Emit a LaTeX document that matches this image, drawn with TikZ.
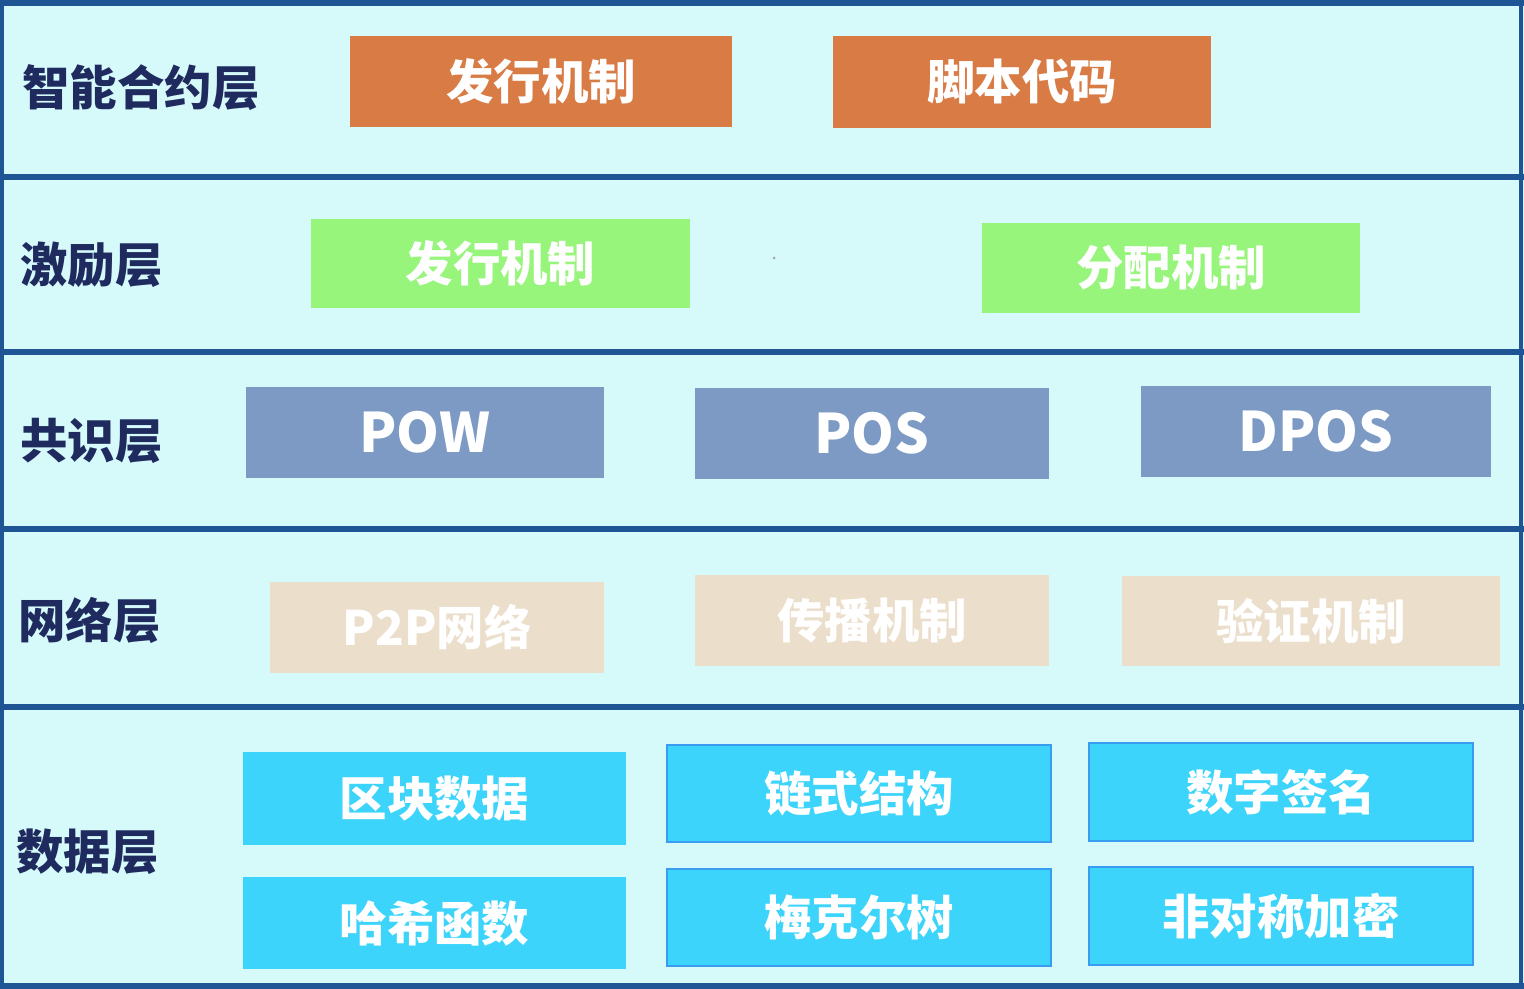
\documentclass[tikz,border=0pt]{standalone}
\usepackage{fontspec}
\setmainfont{Noto Sans CJK SC}
\definecolor{bgc}{HTML}{D6F9FA}
\definecolor{framec}{HTML}{1F5595}
\definecolor{labc}{HTML}{1F2B5E}
\definecolor{orc}{HTML}{D87B45}
\definecolor{grc}{HTML}{97F57B}
\definecolor{slc}{HTML}{7C9AC4}
\definecolor{bec}{HTML}{EBDECB}
\definecolor{cyc}{HTML}{3CD4FA}
\definecolor{cyb}{HTML}{3A9CF0}
\tikzset{
  layerlabel/.style={anchor=west, inner sep=0pt, text=labc, font=\fontsize{27}{32}\selectfont\bfseries},
  boxstyle/.style={draw=none, inner sep=0pt, text=white, font=\fontsize{27}{32}\selectfont\bfseries},
  latinbox/.style={font=\fontsize{31}{36}\selectfont\bfseries},
  cybox/.style={draw=cyb, line width=1.2pt},
  sepline/.style={draw=framec, line width=3.4pt}
}
\newcommand{\mybox}[7]{%
  \node[boxstyle, fill=#6, minimum width=#4*0.02cm, minimum height=#5*0.02cm] (#1) at (#2,#3) {#7};}
\begin{document}
\begin{tikzpicture}[x=0.02cm, y=-0.02cm]
\useasboundingbox (0,0) rectangle (1524,989);
\fill[bgc] (0,0) rectangle (1524,989);
% frame
\draw[sepline] (0,3) -- (1524,3);
\draw[sepline] (0,177) -- (1524,177);
\draw[sepline] (0,352) -- (1524,352);
\draw[sepline] (0,529) -- (1524,529);
\draw[sepline] (0,707) -- (1524,707);
\draw[sepline] (0,986) -- (1524,986);
\draw[draw=framec, line width=2pt] (2,0) -- (2,989);
\draw[draw=framec, line width=2pt] (1521,0) -- (1521,989);
% labels
\node[layerlabel] (l1) at (22,88) {智能合约层};
\node[layerlabel] (l2) at (20,265) {激励层};
\node[layerlabel] (l3) at (20,441) {共识层};
\node[layerlabel] (l4) at (18,620) {网络层};
\node[layerlabel] (l5) at (16,852) {数据层};
% layer 1
\mybox{o1}{541}{81.5}{382}{91}{orc}{发行机制}
\mybox{o2}{1022}{82}{378}{92}{orc}{脚本代码}
% layer 2
\mybox{g1}{500.5}{263.5}{379}{89}{grc}{发行机制}
\mybox{g2}{1171}{268}{378}{90}{grc}{分配机制}
\fill[gray!70] (774,258) circle (1.5);
% layer 3
\mybox{pow}{425}{432.5}{358}{91}{slc}{\fontsize{31}{36}\selectfont POW}
\mybox{pos}{872}{433.5}{354}{91}{slc}{\fontsize{31}{36}\selectfont POS}
\mybox{dpos}{1316}{431.5}{350}{91}{slc}{\fontsize{31}{36}\selectfont DPOS}
% layer 4
\mybox{p2p}{437}{627.5}{334}{91}{bec}{P2P网络}
\mybox{cb}{872}{620.5}{354}{91}{bec}{传播机制}
\mybox{yz}{1311}{621}{378}{90}{bec}{验证机制}
% layer 5
\mybox{qk}{434.5}{798.5}{383}{93}{cyc}{区块数据}
\mybox{hx}{434.5}{923}{383}{92}{cyc}{哈希函数}
\node[boxstyle, cybox, fill=cyc, minimum width=384*0.02cm, minimum height=97*0.02cm] (ls) at (859,793.5) {链式结构};
\node[boxstyle, cybox, fill=cyc, minimum width=384*0.02cm, minimum height=97*0.02cm] (mk) at (859,917.5) {梅克尔树};
\node[boxstyle, cybox, fill=cyc, minimum width=384*0.02cm, minimum height=98*0.02cm] (sz) at (1281,792) {数字签名};
\node[boxstyle, cybox, fill=cyc, minimum width=384*0.02cm, minimum height=98*0.02cm] (fd) at (1281,916) {非对称加密};
\end{tikzpicture}
\end{document}
